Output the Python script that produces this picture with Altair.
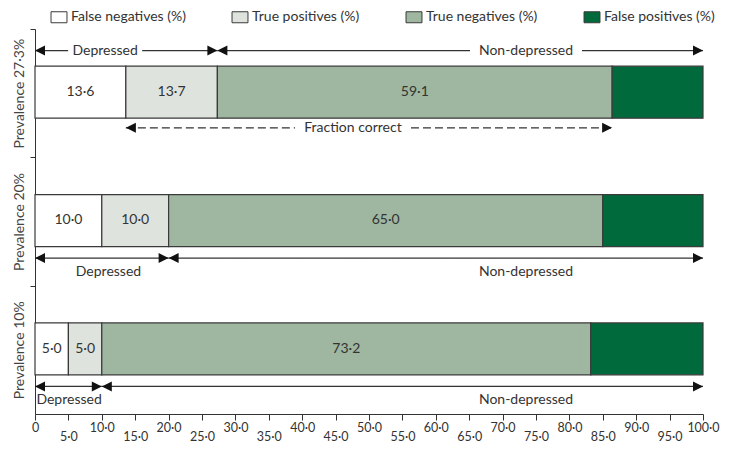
import json
import altair as alt
import pandas as pd

# ---------------- data ----------------
rows = ["Prevalence 27·3%", "Prevalence 20%", "Prevalence 10%"]
categories = ["False negatives (%)", "True positives (%)", "True negatives (%)", "False positives (%)"]
false_neg = [13.6, 10.0, 5.0]
true_pos = [13.7, 10.0, 5.0]
true_neg = [59.1, 65.0, 73.2]
false_pos = [13.6, 15.0, 16.8]
x_ticks = [0, 5, 10, 15, 20, 25, 30, 35, 40, 45, 50, 55, 60, 65, 70, 75, 80, 85, 90, 95, 100]

# annotation text (label, centre along the x scale)
depressed_text_x = [10.5, 11.0, 5.1]
nondep_text_x = [73.5, 73.5, 73.5]
fraction_text_x = 47.6

# ---------------- style ----------------
colors = ["#ffffff", "#dee3de", "#9fb7a0", "#016a3c"]
FONT = "Lato"
INK = "#333333"
W, H = 668, 385
PX_PER_UNIT = W / 100.0


def fmt(v):
    return f"{v:.1f}".replace(".", "·")


bars = []
for i in range(len(rows)):
    vals = [false_neg[i], true_pos[i], true_neg[i], false_pos[i]]
    start = 0.0
    for j, (c, v) in enumerate(zip(categories, vals)):
        bars.append(dict(row=i, cat=c, x0=start, x1=start + v, xm=start + v / 2,
                         y0=i + 0.29, y1=i + 0.695, ym=i + 0.49,
                         label=fmt(v) if j < 3 else ""))
        start += v
bars_df = pd.DataFrame(bars)
labels_df = bars_df[bars_df["label"] != ""]

segs, heads, texts = [], [], []


def add_arrow(x0, x1, y, style, text=None, tx=None, ty=None, gap_px=0):
    if text is not None and ty == y and gap_px > 0:
        g = gap_px / PX_PER_UNIT
        segs.append(dict(x0=x0, x1=tx - g, y=y, style=style))
        segs.append(dict(x0=tx + g, x1=x1, y=y, style=style))
    else:
        segs.append(dict(x0=x0, x1=x1, y=y, style=style))
    heads.append(dict(x=x0, y=y, dir="L"))
    heads.append(dict(x=x1, y=y, dir="R"))
    if text is not None:
        texts.append(dict(x=tx, y=ty, text=text))


for i in range(len(rows)):
    prev = false_neg[i] + true_pos[i]
    if i == 0:
        y = i + 0.168
        add_arrow(0, prev, y, "solid", "Depressed", depressed_text_x[i], y, 37)
        add_arrow(prev, 100, y, "solid", "Non-depressed", nondep_text_x[i], y, 56)
        yf = i + 0.77
        add_arrow(false_neg[i], false_neg[i] + true_pos[i] + true_neg[i], yf, "dashed",
                  "Fraction correct", fraction_text_x, yf, 58)
    else:
        y = i + 0.785
        ty = i + 0.89
        add_arrow(0, prev, y, "solid", "Depressed", depressed_text_x[i], ty)
        add_arrow(prev, 100, y, "solid", "Non-depressed", nondep_text_x[i], ty)

segs_df = pd.DataFrame(segs)
heads_df = pd.DataFrame(heads)
texts_df = pd.DataFrame(texts)

# ---------------- scales / axes ----------------
x_scale = alt.Scale(domain=[0, 100], nice=False, zero=False)
y_scale = alt.Scale(domain=[0, 3], nice=False, zero=False, reverse=True)

x_label_expr = "datum.value === 0 ? '0' : replace(format(datum.value, '.1f'), '.', '·')"
y_names = json.dumps(["", rows[0], "", rows[1], "", rows[2]], ensure_ascii=False)
y_label_expr = y_names + "[round(datum.value * 2)]"

x_axis = alt.Axis(values=x_ticks, labelExpr=x_label_expr, title=None, grid=False,
                  tickSize=6, tickColor=INK, domainColor=INK, labelColor=INK,
                  labelFont=FONT, labelFontSize=12.5, labelOverlap=False, labelFlush=False,
                  labelPadding={"condition": {"test": "datum.value % 10 !== 0", "value": 10},
                                "value": 1})
y_axis = alt.Axis(values=[0, 0.5, 1, 1.5, 2, 2.5], labelExpr=y_label_expr, title=None,
                  grid=False, tickSize=5, tickColor=INK, domainColor=INK,
                  tickOpacity={"condition": {"test": "datum.value % 1 === 0", "value": 1},
                               "value": 0},
                  labelAngle=270, labelAlign="center", labelBaseline="bottom",
                  labelPadding=4, labelFont=FONT, labelFontSize=14, labelColor="#444444")


def X(f):
    return alt.X(f"{f}:Q", scale=x_scale, axis=x_axis)


def Y(f):
    return alt.Y(f"{f}:Q", scale=y_scale, axis=y_axis)


bar_layer = alt.Chart(bars_df).mark_bar(stroke="#3a3a3a", strokeWidth=1.2, opacity=1).encode(
    x=X("x0"), x2="x1", y=Y("y0"), y2="y1",
    color=alt.Color("cat:N", scale=alt.Scale(domain=categories, range=colors),
                    legend=alt.Legend(orient="none", legendX=17, legendY=-19,
                                      direction="horizontal", columns=4, gridAlign="each",
                                      columnPadding=44, title=None,
                                      symbolType="M-1.45,-1H1.45V1H-1.45Z", symbolSize=121,
                                      symbolStrokeColor="#3a3a3a", symbolStrokeWidth=1,
                                      symbolOpacity=1, labelFont=FONT, labelFontSize=14,
                                      labelColor=INK, labelOffset=5, labelLimit=300)),
)

bar_text = alt.Chart(labels_df).mark_text(font=FONT, fontSize=14, color=INK,
                                          baseline="middle").encode(
    x=X("xm"), y=Y("ym"), text="label:N")

seg_layer = alt.Chart(segs_df).mark_rule(color=INK, strokeWidth=1.3).encode(
    x=X("x0"), x2="x1", y=Y("y"),
    strokeDash=alt.StrokeDash("style:N", scale=alt.Scale(domain=["solid", "dashed"],
                                                         range=[[1, 0], [8, 4]]), legend=None))

head_layer = alt.Chart(heads_df).mark_point(filled=True, color="#111111", opacity=1,
                                            size=100).encode(
    x=X("x"), y=Y("y"),
    shape=alt.Shape("dir:N", scale=alt.Scale(domain=["L", "R"],
                                             range=["M0,0L2,-1L2,1Z", "M0,0L-2,-1L-2,1Z"]),
                    legend=None))

text_layer = alt.Chart(texts_df).mark_text(font=FONT, fontSize=14, color=INK,
                                           baseline="middle").encode(
    x=X("x"), y=Y("y"), text="text:N")

chart = alt.layer(bar_layer, bar_text, seg_layer, head_layer, text_layer).properties(
    width=W, height=H, autosize=alt.AutoSizeParams(type="none"),
    padding={"left": 27, "top": 21, "right": 19, "bottom": 29},
    background="white",
).configure_view(stroke=None)

chart.save("out.html", embed_options={"renderer": "svg", "actions": False})
